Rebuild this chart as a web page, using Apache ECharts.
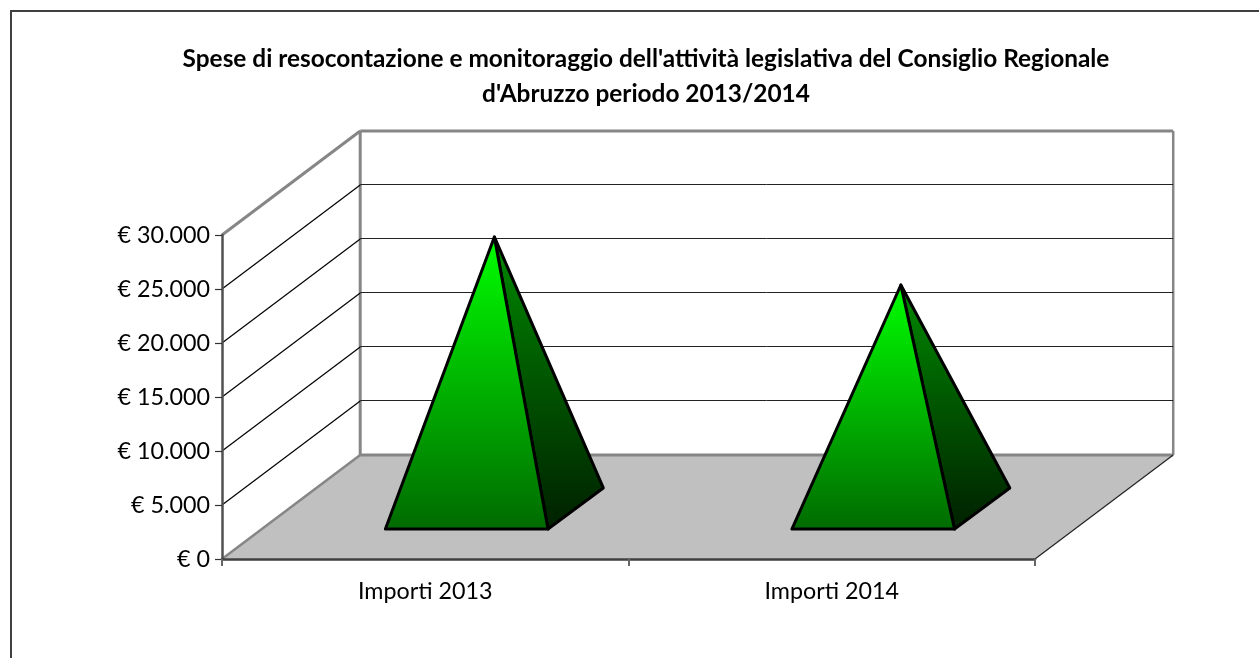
<!DOCTYPE html>
<html>
<head>
<meta charset="utf-8">
<style>html,body{margin:0;padding:0;background:#fff}#c{width:1259px;height:658px}</style>
<script src="https://cdn.jsdelivr.net/npm/echarts@6/dist/echarts.min.js"></script>
</head>
<body>
<div id="c"></div>
<script>
const titleLines = ["Spese di resocontazione e monitoraggio dell'attività legislativa del Consiglio Regionale", "d'Abruzzo periodo 2013/2014"];
const categories = ["Importi 2013", "Importi 2014"];
const importi = [25150, 20700];
const gridValues = [5000, 10000, 15000, 20000, 25000];
const FONT = "Lato";
const DEPTH_X = 0.17, DEPTH_Y = 0.321;           // oblique depth, as share of plot size
const BASE_W = 0.4;                              // pyramid base width, share of band
const D_FRONT = 0.3, D_MID = 0.5, D_BACK = 0.7;  // horizontal depth positions
const DY_FRONT = 0.288, DY_MID = 0.485, DY_BACK = 0.683; // vertical depth positions

function fmt(v) {
  return "€ " + String(v).replace(/\B(?=(\d{3})+$)/g, ".");
}
function line(x1, y1, x2, y2, stroke, lineWidth) {
  return { type: "line", shape: { x1, y1, x2, y2 }, style: { stroke, lineWidth, fill: null } };
}
function grad(c1, c2) {
  return { type: "linear", x: 0, y: 0, x2: 0, y2: 1, colorStops: [{ offset: 0, color: c1 }, { offset: 1, color: c2 }] };
}
function crisp(v) { return Math.round(v) + 0.5; }

function renderFrame(params, api) {
  const cs = params.coordSys;
  const dx = cs.width * DEPTH_X, dy = cs.height * DEPTH_Y;
  const x0 = cs.x, x1 = cs.x + cs.width, yB = cs.y + cs.height, yT = cs.y;
  return {
    type: "group",
    children: [
      { type: "polygon", shape: { points: [[x0, yB], [x0 + dx, yB - dy], [x1 + dx, yB - dy], [x1, yB]] }, style: { fill: "#c0c0c0" } },
      line(x0, yT, x0 + dx, yT - dy, "#868686", 3),
      line(x0 + dx, yT - dy, x1 + dx, yT - dy, "#868686", 3),
      line(x0 + dx, yT - dy, x0 + dx, yB - dy, "#868686", 3),
      line(x1 + dx, yT - dy, x1 + dx, yB - dy, "#868686", 2.5),
      line(x0 + dx, yB - dy, x1 + dx, yB - dy, "#868686", 3),
      line(x0, yB, x0 + dx, yB - dy, "#868686", 2.5),
      line(x1, yB, x1 + dx, yB - dy, "#222", 1.2)
    ]
  };
}
function renderGrid(params, api) {
  const cs = params.coordSys;
  const dx = cs.width * DEPTH_X, dy = cs.height * DEPTH_Y;
  const y = api.coord([0, api.value(1)])[1];
  return {
    type: "group",
    children: [
      line(cs.x, y, cs.x + dx, y - dy, "#000", 1.2),
      line(cs.x + dx, crisp(y - dy - 0.5), cs.x + cs.width + dx, crisp(y - dy - 0.5), "#222", 1)
    ]
  };
}
function renderPyramid(params, api) {
  const cs = params.coordSys;
  const dx = cs.width * DEPTH_X, dy = cs.height * DEPTH_Y;
  const top = api.coord([api.value(0), api.value(1)]);
  const bottom = api.coord([api.value(0), 0]);
  const hw = api.size([1, 0])[0] * BASE_W / 2;
  const fl = [bottom[0] - hw + dx * D_FRONT, bottom[1] - dy * DY_FRONT];
  const fr = [bottom[0] + hw + dx * D_FRONT, bottom[1] - dy * DY_FRONT];
  const br = [bottom[0] + hw + dx * D_BACK, bottom[1] - dy * DY_BACK];
  const apex = [top[0] + dx * D_MID, top[1] - dy * DY_MID];
  const outline = { stroke: "#000", lineWidth: 3, lineJoin: "round" };
  return {
    type: "group",
    children: [
      { type: "polygon", shape: { points: [fr, br, apex] }, style: Object.assign({ fill: grad("#008a00", "#002000") }, outline) },
      { type: "polygon", shape: { points: [fl, fr, apex] }, style: Object.assign({ fill: grad("#00ff00", "#006a00") }, outline) }
    ]
  };
}

const chart = echarts.init(document.getElementById("c"), null, { renderer: "canvas" });
chart.setOption({
  animation: false,
  backgroundColor: "#fff",
  title: {
    text: titleLines.join("\n"),
    left: 641,
    top: 37,
    textAlign: "center",
    textStyle: { fontFamily: FONT, fontWeight: "bold", fontSize: 24.4, lineHeight: 35, color: "#000" }
  },
  grid: { left: 222, right: 224, top: 235, bottom: 99 },
  xAxis: {
    type: "category",
    data: categories,
    z: 5,
    axisLine: { lineStyle: { color: "#404040", width: 2.5 } },
    axisTick: { show: true, alignWithLabel: false, length: 7, lineStyle: { color: "#666", width: 2 } },
    axisLabel: { fontFamily: FONT, fontSize: 23.3, color: "#000", margin: 21 },
    splitLine: { show: false }
  },
  yAxis: {
    type: "value",
    min: 0,
    max: 30000,
    interval: 5000,
    z: 5,
    axisLine: { show: true, lineStyle: { color: "#505050", width: 2.5 } },
    axisTick: { show: true, length: 7, lineStyle: { color: "#333", width: 1.2 } },
    axisLabel: { fontFamily: FONT, fontSize: 23.3, color: "#000", margin: 12, padding: [5, 0, 0, 0], formatter: fmt },
    splitLine: { show: false }
  },
  graphic: [{
    type: "polyline",
    z: 10,
    shape: { points: [[11, 658], [11, 11], [1259, 11]] },
    style: { stroke: "#404040", lineWidth: 2, fill: null }
  }],
  series: [
    { type: "custom", name: "frame", z: 1, silent: true, data: [[0, 0]], renderItem: renderFrame },
    { type: "custom", name: "griglia", z: 2, silent: true, data: gridValues.map(v => [0, v]), renderItem: renderGrid },
    { type: "custom", name: "Importi", z: 6, silent: true, data: importi.map((v, i) => [i, v]), renderItem: renderPyramid }
  ]
});
</script>
</body>
</html>
